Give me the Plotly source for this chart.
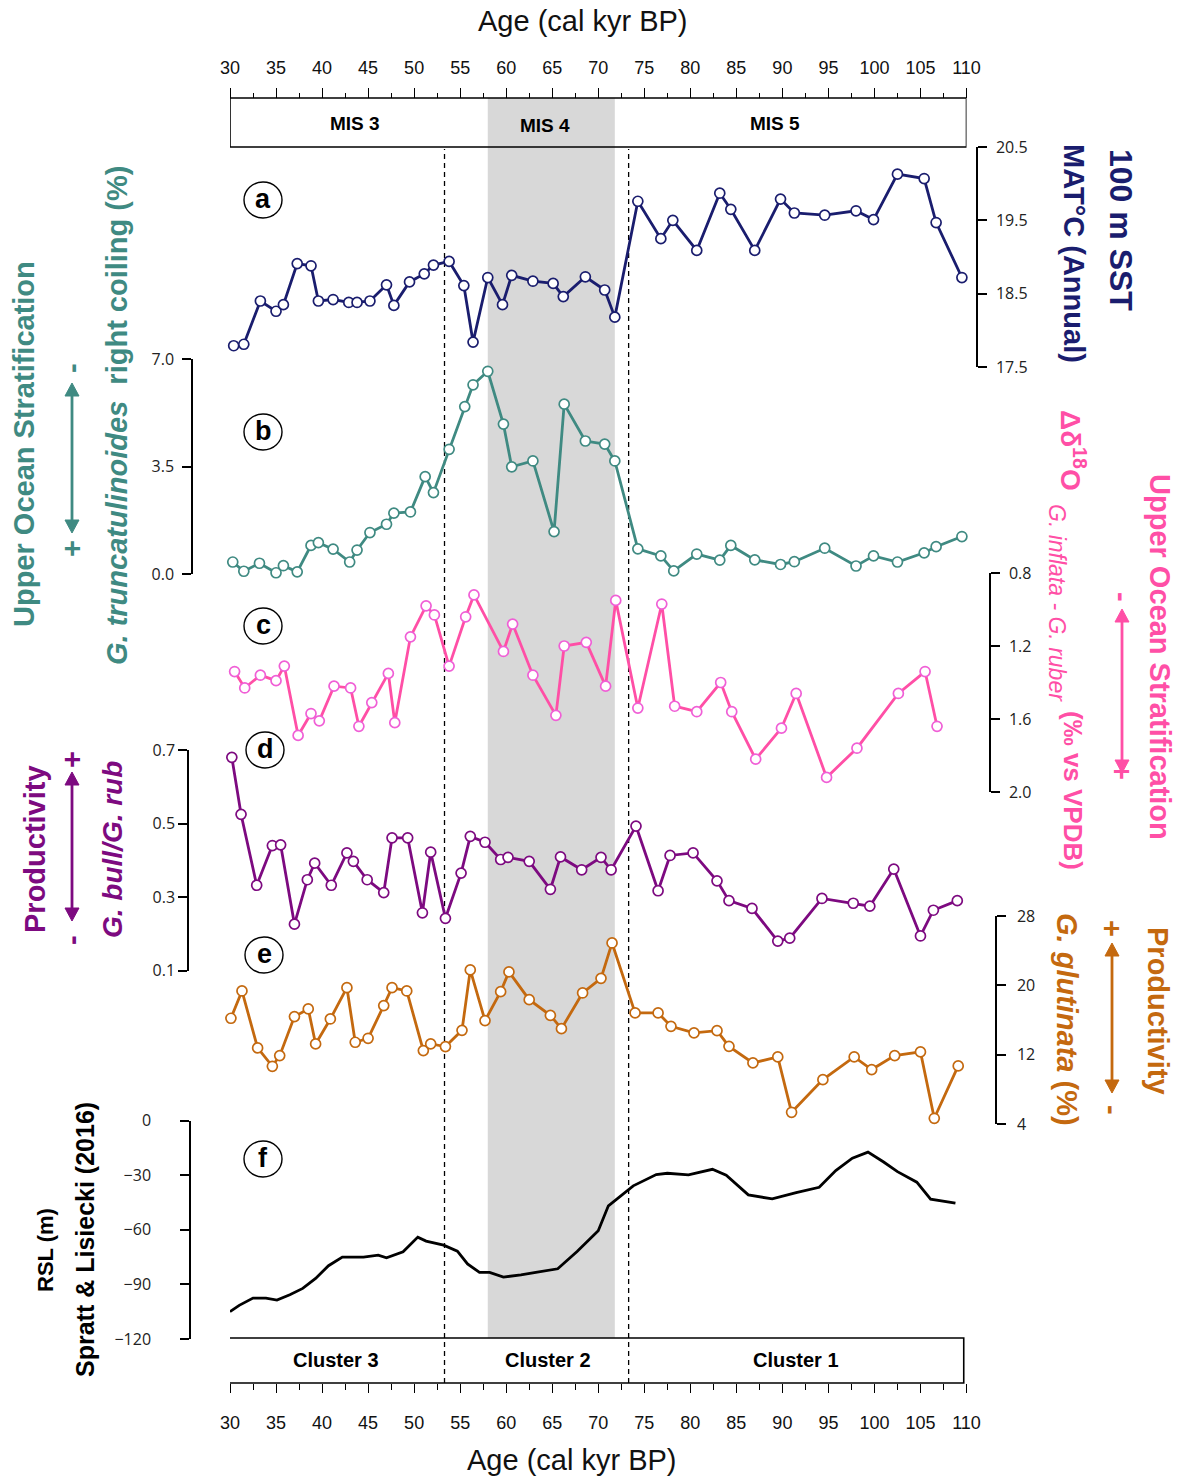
import plotly.graph_objects as go

# ---- data -----------------------------------------------------------------
# (a) 100 m SST, MAT °C (annual)
a_age = [30.4, 31.5, 33.3, 35.0, 35.8, 37.3, 38.8, 39.6, 41.2, 42.9, 43.8, 45.2, 47.0, 47.8, 49.5,
         51.1, 52.1, 53.8, 55.4, 56.4, 58.0, 59.6, 60.6, 62.9, 65.1, 66.2, 68.6, 70.7, 71.8, 74.3,
         76.8, 78.1, 80.7, 83.2, 84.4, 87.0, 89.8, 91.3, 94.6, 98.0, 99.9, 102.5, 105.4, 106.7, 109.5]
a_sst = [17.79, 17.81, 18.40, 18.26, 18.35, 18.91, 18.88, 18.40, 18.42, 18.38, 18.38, 18.40, 18.62, 18.34, 18.66,
         18.77, 18.89, 18.94, 18.61, 17.84, 18.72, 18.35, 18.75, 18.67, 18.64, 18.46, 18.73, 18.55, 18.18, 19.76,
         19.25, 19.50, 19.09, 19.87, 19.65, 19.09, 19.79, 19.60, 19.57, 19.63, 19.51, 20.13, 20.07, 19.47, 18.72]

# (b) G. truncatulinoides right coiling (%)
b_age = [30.3, 31.5, 33.2, 35.0, 35.8, 37.3, 38.8, 39.6, 41.2, 43.0, 43.8, 45.2, 47.0, 47.8, 49.6,
         51.2, 52.1, 53.8, 55.5, 56.4, 58.0, 59.7, 60.6, 62.9, 65.2, 66.3, 68.6, 70.7, 71.8, 74.3,
         76.8, 78.2, 80.7, 83.2, 84.4, 87.0, 89.8, 91.3, 94.6, 98.0, 99.9, 102.5, 105.4, 106.7, 109.5]
b_pct = [0.39, 0.09, 0.35, 0.04, 0.27, 0.07, 0.93, 1.02, 0.81, 0.39, 0.78, 1.35, 1.62, 1.98, 2.02,
         3.17, 2.65, 4.06, 5.45, 6.16, 6.60, 4.88, 3.49, 3.68, 1.38, 5.53, 4.33, 4.23, 3.68, 0.82,
         0.59, 0.10, 0.65, 0.45, 0.93, 0.46, 0.31, 0.40, 0.84, 0.26, 0.59, 0.39, 0.69, 0.89, 1.22]

# (c) Δδ18O G. inflata - G. ruber (‰ vs VPDB)
c_age = [30.5, 31.6, 33.3, 35.0, 35.9, 37.4, 38.8, 39.7, 41.3, 43.1, 44.0, 45.4, 47.2, 47.9, 49.6,
         51.3, 52.2, 53.8, 55.6, 56.5, 59.7, 60.7, 62.9, 65.4, 66.3, 68.7, 70.8, 71.9, 74.3, 76.9,
         78.3, 80.7, 83.3, 84.5, 87.1, 89.9, 91.5, 94.8, 98.1, 102.6, 105.5, 106.8]
c_d18o = [1.34, 1.43, 1.36, 1.39, 1.31, 1.69, 1.57, 1.61, 1.42, 1.43, 1.64, 1.51, 1.35, 1.62, 1.15,
          0.98, 1.03, 1.31, 1.04, 0.92, 1.23, 1.08, 1.36, 1.58, 1.20, 1.18, 1.42, 0.95, 1.54, 0.97,
          1.53, 1.56, 1.40, 1.56, 1.82, 1.65, 1.46, 1.92, 1.76, 1.46, 1.34, 1.64]

# (d) G. bull / G. rub ratio
d_age = [30.2, 31.2, 32.9, 34.6, 35.5, 37.0, 38.4, 39.2, 41.0, 42.7, 43.4, 44.9, 46.7, 47.6, 49.3,
         50.9, 51.8, 53.4, 55.1, 56.1, 57.7, 59.4, 60.2, 62.5, 64.8, 65.9, 68.2, 70.3, 71.4, 74.1,
         76.5, 77.8, 80.3, 82.9, 84.2, 86.7, 89.5, 90.8, 94.3, 97.7, 99.5, 102.1, 105.0, 106.4, 109.0]
d_ratio = [0.680, 0.525, 0.332, 0.440, 0.442, 0.226, 0.347, 0.392, 0.332, 0.420, 0.397, 0.347, 0.312, 0.461, 0.461,
           0.257, 0.422, 0.242, 0.365, 0.465, 0.449, 0.402, 0.408, 0.397, 0.321, 0.409, 0.374, 0.408, 0.374, 0.493,
           0.317, 0.413, 0.420, 0.344, 0.290, 0.269, 0.180, 0.188, 0.296, 0.283, 0.275, 0.376, 0.194, 0.264, 0.290]

# (e) G. glutinata (%)
e_age = [30.1, 31.3, 33.0, 34.6, 35.4, 37.0, 38.5, 39.3, 40.9, 42.7, 43.6, 45.0, 46.7, 47.6, 49.2,
         51.0, 51.8, 53.4, 55.2, 56.1, 57.7, 59.4, 60.3, 62.5, 64.8, 66.0, 68.3, 70.3, 71.5, 74.0,
         76.5, 77.9, 80.4, 82.9, 84.2, 86.8, 89.5, 91.0, 94.4, 97.8, 99.7, 102.2, 105.0, 106.5, 109.1]
e_pct = [16.2, 19.35, 12.78, 10.66, 11.89, 16.39, 17.28, 13.24, 16.12, 19.73, 13.43, 13.89, 17.66, 19.73, 19.35,
         12.47, 13.24, 12.93, 14.81, 21.78, 15.93, 19.27, 21.55, 18.35, 16.54, 15.0, 19.12, 20.81, 24.89, 16.82,
         16.82, 15.27, 14.51, 14.77, 12.96, 11.05, 11.74, 5.35, 9.12, 11.74, 10.28, 11.89, 12.32, 4.66, 10.70]

# (f) relative sea level, Spratt & Lisiecki (2016)
f_age = [30.0, 31.0, 32.5, 33.9, 35.1, 36.5, 37.9, 39.3, 40.7, 42.2, 44.5, 46.1, 47.0, 48.8, 50.4, 51.3,
         53.2, 54.7, 55.8, 57.1, 58.2, 59.7, 61.6, 63.8, 65.6, 67.7, 70.0, 71.1, 72.3, 73.8, 76.3, 77.5,
         79.8, 82.4, 83.9, 86.3, 88.9, 91.5, 94.0, 95.8, 97.6, 99.3, 101.0, 102.5, 104.6, 106.1, 108.8]
f_rsl = [-105.0, -101.5, -97.5, -97.5, -98.6, -95.7, -92.2, -86.7, -79.7, -75.0, -75.0, -73.9, -75.4, -72.1,
         -64.0, -66.2, -68.4, -71.7, -78.7, -83.4, -83.4, -86.0, -84.7, -82.9, -81.4, -71.9, -60.5, -46.8,
         -41.7, -35.8, -29.6, -28.9, -29.8, -26.7, -30.0, -40.8, -43.0, -39.5, -36.6, -27.4, -20.6, -17.3,
         -22.7, -28.0, -33.8, -43.1, -45.3]

age_ticks = list(range(30, 111, 5))
mis_labels = ["MIS 3", "MIS 4", "MIS 5"]
mis_pos = [43.6, 64.2, 89.2]
cluster_labels = ["Cluster 3", "Cluster 2", "Cluster 1"]
cluster_pos = [41.5, 64.5, 91.5]
mis4_span = [58.0, 71.8]
cluster_bounds = [53.3, 73.3]

# ---- styling --------------------------------------------------------------
W, H = 1190, 1477
NAVY = "#1a1d6e"
TEAL = "#3f8a82"
PINK = "#ff4fa6"
PINK_M = "#f05fd6"
PURPLE = "#7d0a80"
ORANGE = "#c4690f"
FONT = "Liberation Sans, Arial, sans-serif"
TICKFONT = dict(family="Open Sans, DejaVu Sans, sans-serif", size=16, color="#222")


def px(v):
    return v / W


def py(v):
    return 1 - v / H


fig = go.Figure()


def add_series(x, y, yax, line_col, mk_col, markers=True):
    fig.add_trace(go.Scatter(
        x=x, y=y, xaxis="x", yaxis=yax, mode="lines+markers" if markers else "lines",
        line=dict(color=line_col, width=2.8),
        marker=dict(size=10, color="white", line=dict(color=mk_col, width=1.7)),
        cliponaxis=False, showlegend=False, hoverinfo="skip"))


add_series(a_age, a_sst, "y", NAVY, NAVY)
add_series(b_age, b_pct, "y2", TEAL, TEAL)
add_series(c_age, c_d18o, "y3", PINK, PINK_M)
add_series(d_age, d_ratio, "y4", PURPLE, PURPLE)
add_series(e_age, e_pct, "y5", ORANGE, ORANGE)
add_series(f_age, f_rsl, "y6", "black", "black", markers=False)
# carrier for the top age axis
fig.add_trace(go.Scatter(x=[30, 110], y=[None, None], xaxis="x2", yaxis="y",
                         showlegend=False, hoverinfo="skip"))


def yax(dom, rng, side, pos, tickvals, fmt, standoff=None):
    d = dict(domain=[py(dom[1]), py(dom[0])], range=rng, side=side, anchor="free", position=px(pos),
             automargin=False, showgrid=False, zeroline=False, showline=True, linecolor="black",
             linewidth=1.5, ticks="outside", ticklen=9, tickwidth=1.5, tickcolor="black",
             tickvals=tickvals, tickformat=fmt, tickfont=TICKFONT)
    if standoff is not None:
        d["ticklabelstandoff"] = standoff
    return d


layout_axes = dict(
    xaxis=dict(domain=[px(230), px(966.5)], range=[30, 110], anchor="free", position=py(1383),
               side="bottom", automargin=False, showgrid=False, zeroline=False, showline=False,
               ticks="outside", ticklen=9, tickwidth=1.4, tickcolor="black", tickvals=age_ticks,
               minor=dict(dtick=2.5, ticks="outside", ticklen=6, tickwidth=1.2, tickcolor="black"),
               ticklabelstandoff=14,
               tickfont=dict(family=FONT, size=18, color="#111")),
    xaxis2=dict(overlaying="x", range=[30, 110], anchor="free", position=py(98), side="top",
                automargin=False, showgrid=False, zeroline=False, showline=False,
                ticks="outside", ticklen=10, tickwidth=1.4, tickcolor="black", tickvals=age_ticks,
                minor=dict(dtick=2.5, ticks="outside", ticklen=5, tickwidth=1.2, tickcolor="black"),
                ticklabelstandoff=7,
                tickfont=dict(family=FONT, size=18, color="#111")),
    yaxis=yax((147, 367), [17.5, 20.5], "right", 977, [17.5, 18.5, 19.5, 20.5], ".1f", standoff=6),
    yaxis2=yax((359, 574), [0, 7], "left", 192, [0, 3.5, 7], ".1f", standoff=5),
    yaxis3=yax((573, 792), [2.0, 0.8], "right", 990, [0.8, 1.2, 1.6, 2.0], ".1f", standoff=6),
    yaxis4=yax((750, 970.5), [0.1, 0.7], "left", 188, [0.1, 0.3, 0.5, 0.7], ".1f"),
    yaxis5=yax((916, 1124), [4, 28], "right", 996, [4, 12, 20, 28], "d", standoff=8),
    yaxis6=yax((1120.7, 1339), [-120, 0], "left", 190, [-120, -90, -60, -30, 0], "d", standoff=26),
)

shapes = []
# MIS 4 band
shapes.append(dict(type="rect", xref="x", yref="paper", x0=mis4_span[0], x1=mis4_span[1],
                   y0=py(1338), y1=py(98), fillcolor="#d8d8d8", line=dict(width=0), layer="below"))
# cluster boundaries
for xb in cluster_bounds:
    shapes.append(dict(type="line", xref="x", yref="paper", x0=xb, x1=xb, y0=py(1383), y1=py(149),
                       line=dict(color="black", width=1.3, dash="5px,4px"), layer="below"))
# MIS and cluster boxes
shapes.append(dict(type="rect", xref="x", yref="paper", x0=30, x1=110, y0=py(147), y1=py(98),
                   line=dict(color="black", width=1.6), fillcolor="rgba(0,0,0,0)", layer="above"))
shapes.append(dict(type="rect", xref="x", yref="paper", x0=29.8, x1=109.7, y0=py(1383), y1=py(1338),
                   line=dict(color="black", width=1.6), fillcolor="rgba(0,0,0,0)", layer="above"))

annotations = []


def text_at(text, x, y, size, color="black", xref="paper", angle=0):
    annotations.append(dict(text=text, x=x, y=py(y), xref=xref, yref="paper", showarrow=False,
                            textangle=angle, xanchor="center", yanchor="middle",
                            font=dict(family=FONT, size=size, color=color)))


# panel letters
for letter, cx, cy in [("a", 263, 200), ("b", 263, 432), ("c", 263, 626), ("d", 265, 750),
                       ("e", 264, 955), ("f", 263, 1159)]:
    shapes.append(dict(type="circle", xref="paper", yref="paper", x0=px(cx - 19), x1=px(cx + 19),
                       y0=py(cy + 18), y1=py(cy - 18), line=dict(color="black", width=1.4),
                       fillcolor="rgba(0,0,0,0)", layer="above"))
    text_at(f"<b>{letter}</b>", px(cx), cy - 1, 27)

for lab, xp in zip(mis_labels, mis_pos):
    text_at(f"<b>{lab}</b>", xp, 123 if lab != "MIS 4" else 126, 19, xref="x")
for lab, xp in zip(cluster_labels, cluster_pos):
    text_at(f"<b>{lab}</b>", xp, 1360, 20, xref="x")

# axis titles
text_at("Age (cal kyr BP)", px(583), 21, 29, "#111")
text_at("Age (cal kyr BP)", px(572), 1460, 29, "#111")


def label(text, x, y, color, size, angle):
    text_at(text, px(x), y, size, color, angle=angle)


def arrow(x, ytop, ybot, color, head=13, half=7, width=2.8):
    # double-headed vertical arrow drawn as a shaft plus two filled heads
    shapes.append(dict(type="line", xref="paper", yref="paper", x0=px(x), x1=px(x),
                       y0=py(ytop + head - 2), y1=py(ybot - head + 2),
                       line=dict(color=color, width=width)))
    for tip, base in ((ytop, ytop + head), (ybot, ybot - head)):
        path = (f"M {px(x)},{py(tip)} L {px(x - half)},{py(base)} "
                f"L {px(x + half)},{py(base)} Z")
        shapes.append(dict(type="path", xref="paper", yref="paper", path=path,
                           fillcolor=color, line=dict(color=color, width=1)))


# left-hand labels
label("<b>Upper Ocean Stratification</b>", 24, 444, TEAL, 29, -90)
label("<b><i>G. truncatulinoides</i>\u00a0 right coiling (%)</b>", 117, 416, TEAL, 29, -90)
label("<b>-</b>", 72, 368, TEAL, 29, -90)
arrow(72, 383, 533, TEAL)
label("<b>+</b>", 72, 549, TEAL, 29, -90)

label("<b>Productivity</b>", 35, 849, PURPLE, 29, -90)
label("<b><i>G. bull/G. rub</i></b>", 112, 850, PURPLE, 28, -90)
label("<b>+</b>", 72, 760, PURPLE, 29, -90)
arrow(72, 772, 921, PURPLE)
label("<b>-</b>", 72, 940, PURPLE, 29, -90)

label("<b>RSL (m)</b>", 45, 1250, "black", 22, -90)
label("<b>Spratt & Lisiecki (2016)</b>", 85, 1240, "black", 25, -90)

# right-hand labels
label("<b>100 m SST</b>", 1121, 230, NAVY, 32, 90)
label("<b>MAT°C (Annual)</b>", 1074, 253, NAVY, 29, 90)

label("<b>Δδ<sup>18</sup>O</b>", 1073, 450, PINK, 28, 90)
label("<i>G. inflata - G. ruber</i>", 1057, 603, PINK, 23, 90)
label("<b>(‰ vs VPDB)</b>", 1073, 790, PINK, 26, 90)
label("<b>Upper Ocean Stratification</b>", 1160, 657, PINK, 29, 90)
label("<b>-</b>", 1122, 597, PINK, 29, 90)
arrow(1122, 609, 773, PINK)
label("<b>+</b>", 1122, 771, PINK, 29, 90)

label("<b><i>G. glutinata</i> (%)</b>", 1067, 1019, ORANGE, 29, 90)
label("<b>Productivity</b>", 1158, 1011, ORANGE, 29, 90)
label("<b>+</b>", 1112, 928, ORANGE, 29, 90)
arrow(1112, 943, 1093, ORANGE)
label("<b>-</b>", 1112, 1110, ORANGE, 29, 90)

fig.update_layout(
    template="none",
    width=W, height=H, margin=dict(l=0, r=0, t=0, b=0, pad=0, autoexpand=False),
    paper_bgcolor="white", plot_bgcolor="rgba(0,0,0,0)",
    shapes=shapes, annotations=annotations, showlegend=False,
    **layout_axes,
)

fig.write_html("out.html", post_script="document.body.style.margin='0px';")
